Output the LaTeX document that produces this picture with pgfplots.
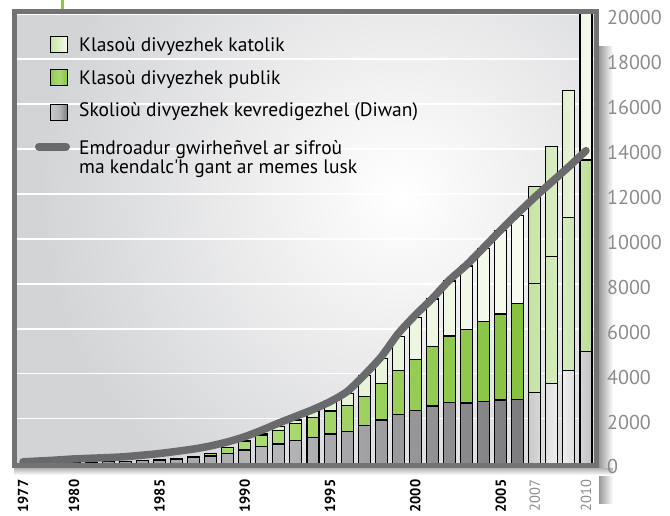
\documentclass[border=0pt]{standalone}
\usepackage{pgfplots}
\pgfplotsset{compat=1.18}
\usepackage{pgfplotstable}
\usepackage{fontspec}
\setmainfont{PT Sans}
\definecolor{greyL}{HTML}{8A8A8C}
\definecolor{greyM}{HTML}{B8B8BA}
\definecolor{greyR}{HTML}{7C7C7E}
\definecolor{pgreyL}{HTML}{C9C9CB}
\definecolor{pgreyM}{HTML}{F2F2F2}
\definecolor{pgreyR}{HTML}{C2C2C4}
\definecolor{greenL}{HTML}{8FCA4E}
\definecolor{greenM}{HTML}{ABDA73}
\definecolor{greenR}{HTML}{86C23F}
\definecolor{pgreenL}{HTML}{C3E2A0}
\definecolor{pgreenM}{HTML}{D8EDC0}
\definecolor{pgreenR}{HTML}{BCDD96}
\definecolor{katL}{HTML}{C6E3A2}
\definecolor{katR}{HTML}{F7FBF1}
\definecolor{trend}{HTML}{6A6A6C}
\definecolor{framec}{HTML}{737375}
\definecolor{bgout}{HTML}{D3D4D6}
\definecolor{tickgray}{HTML}{8B8B8B}
\definecolor{accent}{HTML}{8DC63F}

% cumulative heights: grey = Diwan, mid = Diwan + public, tot = all
\pgfplotstableread{
year grey mid tot
1977 8 8 8
1978 15 15 15
1979 30 30 30
1980 45 45 45
1981 60 60 60
1982 80 80 80
1983 100 100 100
1984 120 120 120
1985 150 160 160
1986 185 215 215
1987 260 320 320
1988 330 450 450
1989 455 700 700
1990 595 985 1035
1991 745 1265 1325
1992 865 1485 1635
1993 1015 1785 1935
1994 1165 2055 2335
1995 1310 2335 2800
1996 1415 2580 3100
1997 1670 2975 3900
1998 1935 3550 4680
1999 2185 4130 5645
2000 2350 4635 6505
2001 2555 5200 7325
2002 2720 5675 8125
2003 2690 5975 8795
2004 2765 6315 9585
2005 2825 6655 10360
2006 2855 7130 11035
}\dataA
\pgfplotstableread{
year grey mid tot
2007 3155 7995 12325
2008 3565 9210 14105
2009 4130 10965 16605
2010 4975 13515 20150
}\dataB
\pgfplotstableread{
year val
1977 70
1979 150
1980 200
1982 260
1983 300
1985 440
1987 640
1988 780
1989 960
1990 1190
1991 1480
1992 1800
1993 2100
1994 2400
1995 2750
1996 3200
1997 3930
1998 4750
1999 5790
2000 6610
2001 7350
2002 8170
2003 8840
2004 9610
2005 10390
2006 11140
2007 11860
2008 12540
2009 13220
2010 13930
}\lineD

\begin{document}
\begin{tikzpicture}[x=1pt,y=1pt]
\useasboundingbox (0,0) rectangle (670,515);
% background
\begin{scope}
\clip (17,51.6) rectangle (594,500.6);
\fill[bgout] (17,51.6) rectangle (594,500.6);
\shade[inner color=white, outer color=bgout] (400,320) circle (360);
\end{scope}
% shadows
\shade[left color=black!40, right color=white] (599,12) rectangle (613,468);
\shade[top color=black!30, bottom color=white] (14,47) rectangle (613,40);

\begin{axis}[
  at={(17pt,51.6pt)}, anchor=south west,
  scale only axis, width=577pt, height=449pt,
  xmin=1976.65, xmax=2010.47, ymin=0, ymax=20000,
  axis line style={draw=none},
  major tick length=0pt,
  ytick={0,2000,...,20000},
  ymajorgrids, grid style={white, line width=1.6pt},
  yticklabel pos=right,
  scaled y ticks=false,
  /pgf/number format/assume math mode=true,
  yticklabel style={/pgf/number format/1000 sep={}, font=\fontsize{20}{20}\selectfont, text=tickgray, anchor=west, inner sep=0pt, xshift=13pt, yshift=-3.5pt},
  xtick={1977,1980,1985,1990,1995,2000,2005,2007,2010},
  xticklabels={\textbf{1977},\textbf{1980},\textbf{1985},\textbf{1990},\textbf{1995},\textbf{2000},\textbf{2005},\textcolor{tickgray}{2007},\textcolor{tickgray}{2010}},
  xticklabel style={font=\fontsize{14.5}{14.5}\selectfont, yshift=-16pt, rotate=90, anchor=east, inner sep=0pt},
  ybar, bar width=12pt, bar shift=0pt,
  clip=true,
]
\addplot[ybar, draw=black, line width=1.1pt, left color=katL, right color=katR] table[x=year,y=tot] {\dataA};
\addplot[ybar, draw=black, line width=1.1pt, left color=katL, right color=katR] table[x=year,y=tot] {\dataB};
\addplot[ybar, draw=black, line width=1.1pt, left color=greenL, right color=greenR, middle color=greenM] table[x=year,y=mid] {\dataA};
\addplot[ybar, draw=black, line width=1.1pt, left color=pgreenL, right color=pgreenR, middle color=pgreenM] table[x=year,y=mid] {\dataB};
\addplot[ybar, draw=black, line width=1.1pt, left color=greyL, right color=greyR, middle color=greyM] table[x=year,y=grey] {\dataA};
\addplot[ybar, draw=black, line width=1.1pt, left color=pgreyL, right color=pgreyR, middle color=pgreyM] table[x=year,y=grey] {\dataB};
\addplot[sharp plot, smooth, tension=0.4, trend, line width=7.5pt, line cap=round, no marks] table[x=year,y=val] {\lineD};
\end{axis}

% frame
\draw[framec, line width=5pt] (14.5,49.5) rectangle (596.5,503.5);
\draw[accent, line width=2.5pt] (62.5,515) -- (62.5,506);

% legend
\draw[black, line width=1.1pt, left color=katL, right color=katR] (50.5,462.5) rectangle (67.5,478.5);
\draw[black, line width=1.1pt, left color=greenL, right color=greenR, middle color=greenM] (50.5,429.5) rectangle (67.5,445.5);
\draw[black, line width=1.1pt, left color=pgreyL, right color=greyR, middle color=greyM] (50.5,394.5) rectangle (67.5,410.5);
\draw[trend, line width=8pt, line cap=round] (39,368.3) -- (66,368.3);
\begin{scope}[every node/.style={anchor=base west, inner sep=0pt, font=\fontsize{19.5}{17}\selectfont}]
\node at (79,463) {Klasoù divyezhek katolik};
\node at (79,430) {Klasoù divyezhek publik};
\node at (79,398) {Skolioù divyezhek kevredigezhel (Diwan)};
\node at (79,360) {Emdroadur gwirheñvel ar sifroù};
\node at (79,341.5) {ma kendalc\textquotesingle h gant ar memes lusk};
\end{scope}
\end{tikzpicture}
\end{document}
